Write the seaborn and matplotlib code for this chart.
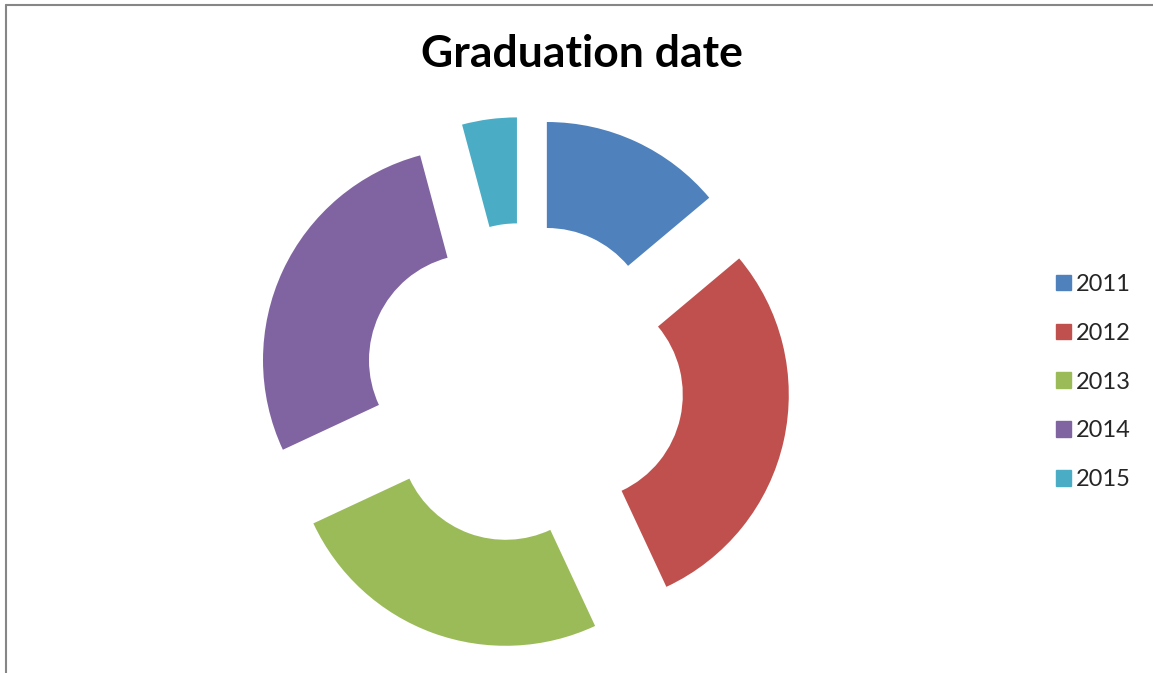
import matplotlib
matplotlib.use("Agg")
import matplotlib.pyplot as plt
import matplotlib.patches as mpatches
from matplotlib.lines import Line2D
import seaborn as sns

# =========================
# DATA
# =========================
years = ["2011", "2012", "2013", "2014", "2015"]
graduates = [10, 21, 18, 20, 3]
year_colors = ["#4F81BD", "#C0504D", "#9BBB59", "#8064A2", "#4BACC6"]

# =========================
# STYLE
# =========================
sns.set_theme(style="white")
plt.rcParams['font.family'] = ['Lato', 'DejaVu Sans']

W, H = 1153, 673
fig = plt.figure(figsize=(W / 100, H / 100), dpi=100)
fig.patch.set_facecolor("white")

ax = fig.add_axes([0, 0, 1, 1])

palette = sns.color_palette(year_colors)

wedges, _ = ax.pie(
    graduates,
    explode=[0.255] * len(graduates),
    colors=palette,
    startangle=90,
    counterclock=False,
    radius=1.0,
    wedgeprops=dict(width=0.5, linewidth=0)
)

# place donut centre at pixel (524, 383), 212 px per unit
cx, cy, scale = 524, 383, 212
ax.set_xlim(-cx / scale, (W - cx) / scale)
ax.set_ylim(-(H - cy) / scale, cy / scale)
ax.set_aspect('auto')
ax.axis('off')

# =========================
# TITLE
# =========================
fig.text(582 / W, 1 - 54 / H, "Graduation date",
         ha='center', va='center', fontsize=32, fontweight='bold', color='black')

# =========================
# LEGEND
# =========================
handles = [mpatches.Patch(color=c, label=y) for c, y in zip(palette, years)]
fig.legend(
    handles=handles,
    loc='center left',
    bbox_to_anchor=(1056 / W, 1 - 382 / H),
    frameon=False,
    fontsize=17,
    handlelength=0.64,
    handleheight=0.64,
    handletextpad=0.22,
    labelspacing=1.18,
    borderpad=0,
    borderaxespad=0
)

# chart border (left and top only)
fig.add_artist(Line2D([5.5 / W, 5.5 / W], [0, 1 - 4.5 / H], transform=fig.transFigure,
                      color='#868686', linewidth=1.5))
fig.add_artist(Line2D([5.5 / W, 1], [1 - 4.5 / H, 1 - 4.5 / H], transform=fig.transFigure,
                      color='#868686', linewidth=1.5))

plt.savefig("out.png", dpi=100)
